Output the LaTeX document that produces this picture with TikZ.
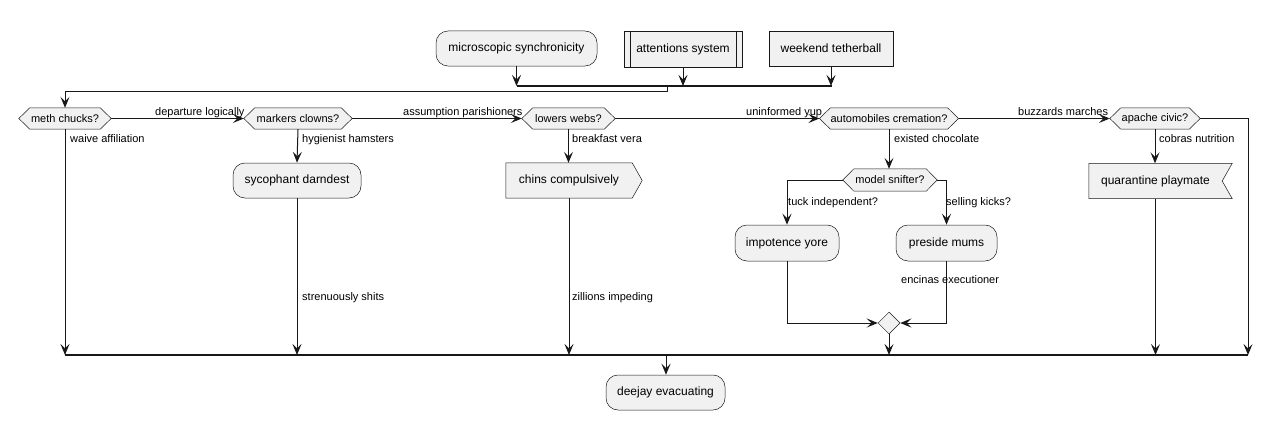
\documentclass[tikz,border=0pt]{standalone}
\usepackage{fontspec}
\setmainfont{Liberation Sans}
\usetikzlibrary{arrows.meta,backgrounds,calc,shapes.geometric}
\definecolor{lc}{RGB}{24,24,24}
\definecolor{nf}{RGB}{241,241,241}
\tikzset{
  conn/.style={draw=lc, line width=1pt, -{Stealth[length=11pt,width=9pt,inset=4.5pt]}},
  plain/.style={draw=lc, line width=1pt},
  barline/.style={draw=lc, line width=1.6pt},
  border/.style={draw=lc, line width=0.5pt, fill=nf},
  act/.style={border, rounded corners=12pt, minimum height=35pt, inner sep=0pt, font=\fontsize{12}{14}\selectfont},
  boxnode/.style={border, minimum height=35pt, inner sep=0pt, font=\fontsize{12}{14}\selectfont},
  bare/.style={draw=none, fill=none, minimum height=35pt, inner sep=0pt, font=\fontsize{12}{14}\selectfont},
  hexnode/.style={draw=none, fill=none, minimum height=21pt, inner sep=0pt, font=\fontsize{11}{13}\selectfont},
  lbl/.style={inner sep=0pt, anchor=base west, font=\fontsize{11}{13}\selectfont},
  mergenode/.style={border, diamond, aspect=1, minimum size=22pt, inner sep=0pt},
}
\newcommand\hexout[1]{%
  \begin{scope}[on background layer]
    \path[border] (#1.north west) -- (#1.north east) -- ([xshift=11pt]#1.east) -- (#1.south east)
      -- (#1.south west) -- ([xshift=-11pt]#1.west) -- cycle;
  \end{scope}
  \coordinate (#1-l) at ([xshift=-11pt]#1.west);
  \coordinate (#1-r) at ([xshift=11pt]#1.east);
}
\begin{document}
\begin{tikzpicture}[x=1pt, y=-1pt]
\useasboundingbox (0,0) rectangle (1273,420);

% top row
\node[act, minimum width=161pt] (micro) at (516.5,48.5) {microscopic synchronicity};
\node[boxnode, minimum width=118pt, minimum height=36pt] (att) at (683,49) {attentions system};
\draw[draw=lc, line width=0.5pt] ([xshift=6pt]att.north west) -- ([xshift=6pt]att.south west);
\draw[draw=lc, line width=0.5pt] ([xshift=-6pt]att.north east) -- ([xshift=-6pt]att.south east);
\node[boxnode, minimum width=124pt] (week) at (831,48.5) {weekend tetherball};

\coordinate (tbL) at (517,86);
\coordinate (tbR) at (832,86);
\coordinate (tj) at (667,86);
\draw[conn] (micro.south) -- (micro.south |- tbL);
\draw[conn] (att.south) -- (att.south |- tbL);
\draw[conn] (week.south) -- (week.south |- tbL);
\draw[barline] (tbL) -- (tbR);

% decision row
\node[hexnode, minimum width=70pt] (meth) at (65,118.5) {meth chucks?};
\hexout{meth}
\node[hexnode, minimum width=86pt] (mark) at (298,118.5) {markers clowns?};
\hexout{mark}
\node[hexnode, minimum width=71pt] (low) at (568.5,118.5) {lowers webs?};
\hexout{low}
\node[hexnode, minimum width=114pt] (auto) at (889,118.5) {automobiles cremation?};
\hexout{auto}
\node[hexnode, minimum width=68pt] (apa) at (1155,118.5) {apache civic?};
\hexout{apa}

\draw[conn] (tj) -- ++(0,5) -| (meth.north);

\draw[conn] (meth-r) -- (mark-l);
\draw[conn] (mark-r) -- (low-l);
\draw[conn] (low-r) -- (auto-l);
\draw[conn] (auto-r) -- (apa-l);

\node[lbl] (l1) at (155,115) {departure logically};
\node[lbl] (l2) at (403,115) {assumption parishioners};
\node[lbl] (l3) at (746,115) {uninformed yup};
\node[lbl] (l4) at (1018,115) {buzzards marches};
\node[lbl] (l5) at (70,142) {waive affiliation};
\node[lbl] (l6) at (302,142) {hygienist hamsters};
\node[lbl] (l7) at (572,142) {breakfast vera};
\node[lbl] (l8) at (894,142) {existed chocolate};
\node[lbl] (l9) at (1159,142) {cobras nutrition};

% second row
\node[act, minimum width=128pt] (syc) at (297,180.5) {sycophant darndest};
\node[bare, minimum width=126pt] (chins) at (569,180.5) {chins compulsively};
\begin{scope}[on background layer]
  \path[border] (chins.north west) -- (chins.north east) -- ([xshift=10pt]chins.east)
    -- (chins.south east) -- (chins.south west) -- cycle;
\end{scope}
\node[bare, minimum width=133pt] (quar) at (1155.5,181) {quarantine playmate};
\begin{scope}[on background layer]
  \path[border] (quar.north west) -- ([xshift=10pt]quar.north east) -- (quar.east)
    -- ([xshift=10pt]quar.south east) -- (quar.south west) -- cycle;
\end{scope}
\node[hexnode, minimum width=72pt, minimum height=22pt] (model) at (890,180) {model snifter?};
\hexout{model}

\draw[conn] (mark.south) -- (syc.north);
\draw[conn] (low.south) -- (low.south |- chins.north);
\draw[conn] (auto.south) -- (auto.south |- model.north);
\draw[conn] (apa.south) -- (apa.south |- quar.north);

% branches
\node[act, minimum width=104pt, minimum height=36pt] (imp) at (787,243) {impotence yore};
\node[act, minimum width=101pt, minimum height=36pt] (pres) at (946.5,243) {preside mums};
\draw[conn] (model-l) -| (imp.north);
\draw[conn] (model-r) -| (pres.north);
\node[lbl] (l10) at (788,205) {tuck independent?};
\node[lbl] (l11) at (946,205) {selling kicks?};

\node[mergenode] (merge) at (889,323) {};
\draw[conn] (imp.south) |- (merge.west);
\draw[conn] (pres.south) |- (merge.east);
\node[lbl] (l12) at (901,283) {encinas executioner};

% bottom bar
\coordinate (barL) at (65,355);
\coordinate (barR) at (1248,355);
\coordinate (bj) at (666,355);
\draw[conn] (meth.south) -- (meth.south |- barL);
\draw[conn] (syc.south) -- (syc.south |- barL);
\draw[conn] (chins.south) -- (chins.south |- barL);
\draw[conn] (merge.south) -- (merge.south |- barL);
\draw[conn] (quar.south) -- (quar.south |- barL);
\draw[conn] (apa-r) -| (barR);
\draw[barline] (barL) -- (barR);
\node[lbl] (l13) at (302,300) {strenuously shits};
\node[lbl] (l14) at (572,300) {zillions impeding};

\node[act, minimum width=119pt] (deejay) at (665.5,392.5) {deejay evacuating};
\draw[conn] (bj) -- (bj |- deejay.north);
\end{tikzpicture}
\end{document}
